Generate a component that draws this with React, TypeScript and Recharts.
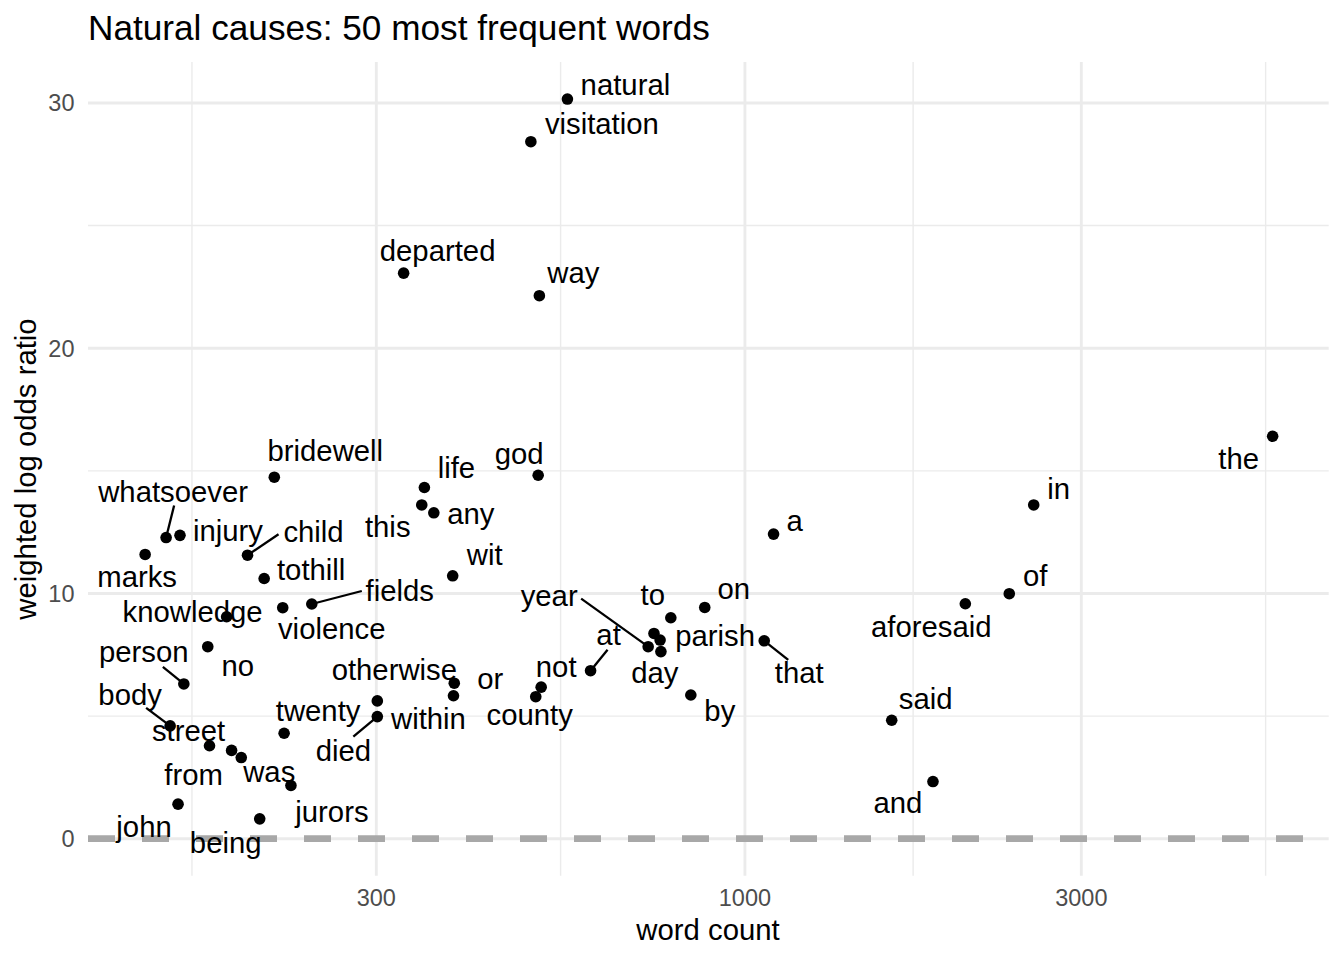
import React from 'react';
import { ScatterChart, Scatter, XAxis, YAxis, CartesianGrid } from 'recharts';

const FONT = '"Liberation Sans", Arial, Helvetica, sans-serif';

// the 50 words, their counts and weighted log odds (natural causes)
const words = [
  'natural', 'visitation', 'departed', 'way', 'the', 'bridewell', 'god', 'life', 'this', 'any',
  'wit', 'a', 'in', 'of', 'aforesaid', 'said', 'and', 'whatsoever', 'injury', 'marks',
  'child', 'tothill', 'violence', 'fields', 'knowledge', 'no', 'person', 'body', 'street', 'from',
  'was', 'twenty', 'jurors', 'john', 'being', 'otherwise', 'died', 'or', 'within', 'not',
  'county', 'at', 'to', 'on', 'parish', 'year', 'day', '', 'that', 'by',
];
const counts = [
  560, 497, 328, 511, 5604, 215, 509, 351, 348, 362,
  385, 1098, 2568, 2371, 2054, 1615, 1848, 151, 158, 141,
  197, 208, 221, 243, 184, 173, 160, 153, 174, 187,
  193, 222, 227, 157, 205, 301, 301, 387, 386, 514,
  505, 604, 785, 877, 758, 729, 760, 743, 1065, 838,
];
const logOdds = [
  30.16, 28.42, 23.06, 22.14, 16.41, 14.74, 14.82, 14.32, 13.61, 13.29,
  10.72, 12.42, 13.61, 9.99, 9.58, 4.83, 2.33, 12.28, 12.37, 11.59,
  11.56, 10.61, 9.42, 9.57, 9.05, 7.83, 6.31, 4.6, 3.79, 3.6,
  3.31, 4.3, 2.17, 1.41, 0.81, 5.62, 4.98, 6.34, 5.83, 6.18,
  5.79, 6.85, 9.01, 9.43, 8.1, 7.83, 7.63, 8.37, 8.07, 5.86,
];

const xTicks = [300, 1000, 3000];
const xMinor = [164.3, 547.7, 1732, 5477];
const yTicks = [0, 10, 20, 30];
const yMinor = [5, 15, 25];

// where the repel step left each label, relative to its point (px)
const labelNudge: ([number, number] | null)[] = [
  [58, -15], [71, -18], [34, -23], [34, -23], [-34, 22], [51, -27], [-19, -22], [32, -20], [-34, 22], [37, 1],
  [32, -21], [21, -14], [25, -16], [26, -18], [-34, 23], [34, -22], [-35, 21], [7, -46], [48, -5], [-8, 22],
  [66, -24], [47, -9], [49, 21], [88, -14], [-34, -5], [30, 19], [-40, -32], [-40, -31], [-21, -15], [-38, 24],
  [28, 14], [34, -23], [41, 26], [-34, 22], [-34, 24], [17, -31], [-34, 34], [36, -5], [-25, 23], [15, -21],
  [-6, 18], [18, -36], [-18, -23], [29, -19], [55, -5], [-99, -51], [-6, 21], null, [35, 32], [29, 16],
];
// leader segments: end of the line, relative to the point (px)
const leaderTips: Record<string, [number, number]> = {
  whatsoever: [8, -32],
  child: [31, -21],
  fields: [50, -13],
  person: [-21, -17],
  body: [-24, -18],
  died: [-24, 20],
  at: [17, -21],
  year: [-67, -48],
  that: [24, 19],
};

const data = words.map((word, i) => ({ word, count: counts[i], odds: logOdds[i], i }));

const Dot = (p: any) => <circle cx={p.cx} cy={p.cy} r={5.8} fill="#000" />;

const WordLabel = (p: any) => {
  const { cx, cy, payload } = p;
  const nudge = labelNudge[payload.i];
  if (!nudge) return <g />;
  const tip = leaderTips[payload.word];
  return (
    <g>
      {tip && (
        <line x1={cx} y1={cy} x2={cx + tip[0]} y2={cy + tip[1]} stroke="#000" strokeWidth={2.3} />
      )}
      <text
        x={cx + nudge[0]}
        y={cy + nudge[1]}
        textAnchor="middle"
        dominantBaseline="central"
        fontSize={29.3}
        fontFamily={FONT}
        fill="#000"
      >
        {payload.word}
      </text>
    </g>
  );
};

const XTick = (p: any) => (
  <text x={p.x} y={p.y + 30.3} textAnchor="middle" fontSize={23.5} fontFamily={FONT} fill="#4d4d4d">
    {p.payload.value}
  </text>
);

const YTick = (p: any) => (
  <text x={p.x - 13.5} y={p.y + 8.4} textAnchor="end" fontSize={23.5} fontFamily={FONT} fill="#4d4d4d">
    {p.payload.value}
  </text>
);

export default function App() {
  return (
    <div style={{ position: 'relative', width: 1344, height: 960, background: '#fff', fontFamily: FONT }}>
      <style>{'body{margin:0}'}</style>
      <ScatterChart width={1344} height={960} margin={{ top: 62, right: 15.3, bottom: 0, left: 0 }}>
        <CartesianGrid stroke="#ebebeb" strokeWidth={1.42} horizontalValues={yMinor} verticalValues={xMinor} />
        <CartesianGrid stroke="#ebebeb" strokeWidth={2.84} horizontalValues={yTicks} verticalValues={xTicks} />
        <CartesianGrid
          stroke="#a8a8a8"
          strokeWidth={6.8}
          strokeDasharray="27 27"
          vertical={false}
          horizontalValues={[0]}
        />
        <XAxis
          type="number"
          dataKey="count"
          scale="log"
          domain={[117, 6730]}
          allowDataOverflow
          ticks={xTicks}
          interval={0}
          tickLine={false}
          axisLine={false}
          tickSize={0}
          tickMargin={0}
          height={84.3}
          tick={<XTick />}
        />
        <YAxis
          type="number"
          dataKey="odds"
          domain={[-1.508, 31.67]}
          allowDataOverflow
          ticks={yTicks}
          interval={0}
          tickLine={false}
          axisLine={false}
          tickSize={0}
          tickMargin={0}
          width={88}
          tick={<YTick />}
        />
        <Scatter data={data} shape={<Dot />} isAnimationActive={false} />
        <Scatter data={data} shape={<WordLabel />} isAnimationActive={false} />
      </ScatterChart>
      <svg
        width={1344}
        height={960}
        style={{ position: 'absolute', left: 0, top: 0, pointerEvents: 'none' }}
      >
        <text x={88} y={40} fontSize={35.2} fontFamily={FONT} fill="#000">
          Natural causes: 50 most frequent words
        </text>
        <text x={708} y={940} textAnchor="middle" fontSize={29.3} fontFamily={FONT} fill="#000">
          word count
        </text>
        <text
          x={36}
          y={469}
          transform="rotate(-90 36 469)"
          textAnchor="middle"
          fontSize={29.3}
          fontFamily={FONT}
          fill="#000"
        >
          weighted log odds ratio
        </text>
      </svg>
    </div>
  );
}
